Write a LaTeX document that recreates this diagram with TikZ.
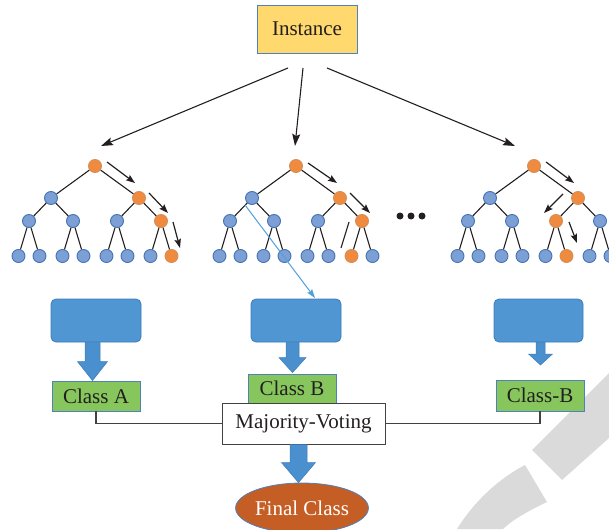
\documentclass[tikz,border=0pt]{standalone}
\usepackage{fontspec}
\setmainfont{Liberation Serif}
\usetikzlibrary{arrows.meta,calc,shapes.geometric}
\definecolor{bnfill}{HTML}{7CA0D6}
\definecolor{bnline}{HTML}{4473B0}
\definecolor{onfill}{HTML}{EF8A3E}
\definecolor{online}{HTML}{D4905A}
\definecolor{instfill}{HTML}{FFD86E}
\definecolor{frame}{HTML}{4F81BD}
\definecolor{grfill}{HTML}{86C65C}
\definecolor{bxfill}{HTML}{4F96D2}
\definecolor{bxline}{HTML}{3C7DBA}
\definecolor{arfill}{HTML}{4A90CE}
\definecolor{finfill}{HTML}{C55E24}
\definecolor{lbline}{HTML}{4FA0DC}
\definecolor{ink}{HTML}{231F20}
\definecolor{wm}{HTML}{DADADA}
\tikzset{
  tn/.style={circle,minimum size=13pt,inner sep=0pt,fill=bnfill,draw=bnline,line width=0.9pt},
  on/.style={fill=onfill,draw=online},
  tedge/.style={draw=ink,line width=1.1pt},
  arr/.style={draw=ink,line width=1.1pt,-{Stealth[length=12pt,width=8pt,inset=2pt]}},
  sarr/.style={draw=ink,line width=1.2pt,-{Stealth[length=9pt,width=6.5pt,inset=1.5pt]}},
  lbl/.style={font=\fontsize{21}{25}\selectfont,text=ink,inner sep=0pt},
  bbox/.style={rectangle,rounded corners=5pt,fill=bxfill,draw=bxline,line width=0.8pt,minimum width=90pt,minimum height=43pt,inner sep=0pt},
  gbox/.style={lbl,rectangle,fill=grfill,draw=frame,line width=0.8pt,minimum width=88pt,minimum height=30pt},
  barrow/.style={fill=arfill,draw=bxline,line width=0.5pt},
  conn/.style={draw=ink!85,line width=1.1pt},
  t1r/.style={on},t1R/.style={on},t1RR/.style={on},t1RRb/.style={on},
  t2r/.style={on},t2R/.style={on},t2RR/.style={on},t2RRa/.style={on},
  t3r/.style={on},t3R/.style={on},t3RL/.style={on},t3RLb/.style={on},
}
\newcommand\rftree[2]{%
  \node[tn,#1r/.try] (#1r) at (#2,166) {};
  \node[tn,#1L/.try] (#1L) at (#2-44,198) {};
  \node[tn,#1R/.try] (#1R) at (#2+44,198) {};
  \node[tn,#1LL/.try] (#1LL) at (#2-66,221) {};
  \node[tn,#1LR/.try] (#1LR) at (#2-22,221) {};
  \node[tn,#1RL/.try] (#1RL) at (#2+22,221) {};
  \node[tn,#1RR/.try] (#1RR) at (#2+66,221) {};
  \node[tn,#1LLa/.try] (#1LLa) at (#2-76.5,256) {};
  \node[tn,#1LLb/.try] (#1LLb) at (#2-55.5,256) {};
  \node[tn,#1LRa/.try] (#1LRa) at (#2-32.5,256) {};
  \node[tn,#1LRb/.try] (#1LRb) at (#2-11.5,256) {};
  \node[tn,#1RLa/.try] (#1RLa) at (#2+11.5,256) {};
  \node[tn,#1RLb/.try] (#1RLb) at (#2+32.5,256) {};
  \node[tn,#1RRa/.try] (#1RRa) at (#2+55.5,256) {};
  \node[tn,#1RRb/.try] (#1RRb) at (#2+76.5,256) {};
  \path[tedge] (#1r) -- (#1L) (#1r) -- (#1R)
    (#1L) -- (#1LL) (#1L) -- (#1LR) (#1R) -- (#1RL) (#1R) -- (#1RR)
    (#1LL) -- (#1LLa) (#1LL) -- (#1LLb) (#1LR) -- (#1LRa) (#1LR) -- (#1LRb)
    (#1RL) -- (#1RLa) (#1RL) -- (#1RLb) (#1RR) -- (#1RRa) (#1RR) -- (#1RRb);
}
% #1 start (top), #2 tip, #3 shaft half width, #4 head half width, #5 head length
\newcommand\blockarrow[5]{%
  \path[barrow] let \p1=(#1), \p2=(#2) in
    (\x2-#3pt,\y1) -- (\x2+#3pt,\y1) -- (\x2+#3pt,\y2+#5pt) -- (\x2+#4pt,\y2+#5pt)
    -- (\x2,\y2) -- (\x2-#4pt,\y2+#5pt) -- (\x2-#3pt,\y2+#5pt) -- cycle;
}
\begin{document}
\begin{tikzpicture}[x=1pt,y=-1pt]
\useasboundingbox (0,0) rectangle (609,529);
\clip (0,0) rectangle (609,529);
% watermark
\fill[wm] (532,450) -- (609,373) -- (609,438) -- (562,480) -- cycle;
\fill[wm] (457,529) .. controls (475,500) and (500,478) .. (525,465) -- (547,502)
  .. controls (530,510) and (512,520) .. (503,529) -- cycle;
% instance
\node[lbl,rectangle,fill=instfill,draw=frame,line width=0.8pt,minimum width=100pt,minimum height=48pt] (inst) at (307,29) {Instance};
\coordinate (s1) at (288,68); \coordinate (e1) at (101,146);
\coordinate (s2) at (303,68); \coordinate (e2) at (295,146);
\coordinate (s3) at (327,68); \coordinate (e3) at (515,146);
\draw[arr] (s1) -- (e1);
\draw[arr] (s2) -- (e2);
\draw[arr] (s3) -- (e3);
% trees
\rftree{t1}{95}
\rftree{t2}{296}
\rftree{t3}{534}
% path arrows in trees
\coordinate (a11) at (107,162); \coordinate (b11) at (135,183);
\coordinate (a12) at (149,193); \coordinate (b12) at (168,213);
\coordinate (a13) at (173,222); \coordinate (b13) at (180,248);
\draw[sarr] (a11) -- (b11);
\draw[sarr] (a12) -- (b12);
\draw[sarr] (a13) -- (b13);
\coordinate (a21) at (308,163); \coordinate (b21) at (337,183);
\coordinate (a22) at (350,193); \coordinate (b22) at (370,213);
\draw[sarr] (a21) -- (b21);
\draw[sarr] (a22) -- (b22);
\coordinate (c21) at (349,222); \coordinate (d21) at (341,248);
\draw[tedge] (c21) -- (d21);
\coordinate (a31) at (546,162); \coordinate (b31) at (574,183);
\coordinate (a32) at (563,194); \coordinate (b32) at (544,213);
\coordinate (a33) at (569,222); \coordinate (b33) at (577,243);
\draw[sarr] (a31) -- (b31);
\draw[sarr] (a32) -- (b32);
\draw[sarr] (a33) -- (b33);
% dots
\node[circle,fill=ink,minimum size=7pt,inner sep=0pt] (d1) at (400,216) {};
\node[circle,fill=ink,minimum size=7pt,inner sep=0pt] (d2) at (411,216) {};
\node[circle,fill=ink,minimum size=7pt,inner sep=0pt] (d3) at (422,216) {};
% result boxes
\node[bbox] (b1) at (96,320.5) {};
\node[bbox] (b2) at (296,320.5) {};
\node[bbox,minimum width=89pt] (b3) at (538.5,320.5) {};
% light blue path line
\coordinate (lb1) at (245,205); \coordinate (lb2) at (315,298);
\draw[lbline,line width=1pt,-{Stealth[length=9pt,width=6pt,inset=1.5pt]}] (lb1) -- (lb2);
% class boxes
\node[gbox] (ca) at (96,396) {Class A};
\node[gbox,minimum height=29pt] (cb) at (292,388.5) {Class B};
\node[gbox,minimum height=31pt] (cc) at (540,395.5) {Class-B};
% block arrows
\blockarrow{b1.south}{$(ca.north)+(-3.5,0)$}{7.5}{15}{19}
\blockarrow{b2.south}{$(cb.north)+(0.5,-1)$}{6.5}{13.5}{15}
\coordinate (t3tip) at (540.5,365);
\blockarrow{b3.south}{t3tip}{4.5}{12}{11}
% majority voting
\node[lbl,rectangle,fill=white,draw=ink!85,line width=1pt,minimum width=163pt,minimum height=41pt] (mv) at (303.5,423.5) {Majority-Voting};
\draw[conn] (ca.south) |- (mv.west);
\draw[conn] (cc.south) |- (mv.east);
% final
\node[lbl,ellipse,fill=finfill,draw=frame,line width=0.8pt,minimum width=131pt,minimum height=50pt,text=white] (fin) at (302,508) {Final Class};
\blockarrow{mv.south}{$(fin.north)+(-3.5,0)$}{8.5}{17}{20}
\end{tikzpicture}
\end{document}
